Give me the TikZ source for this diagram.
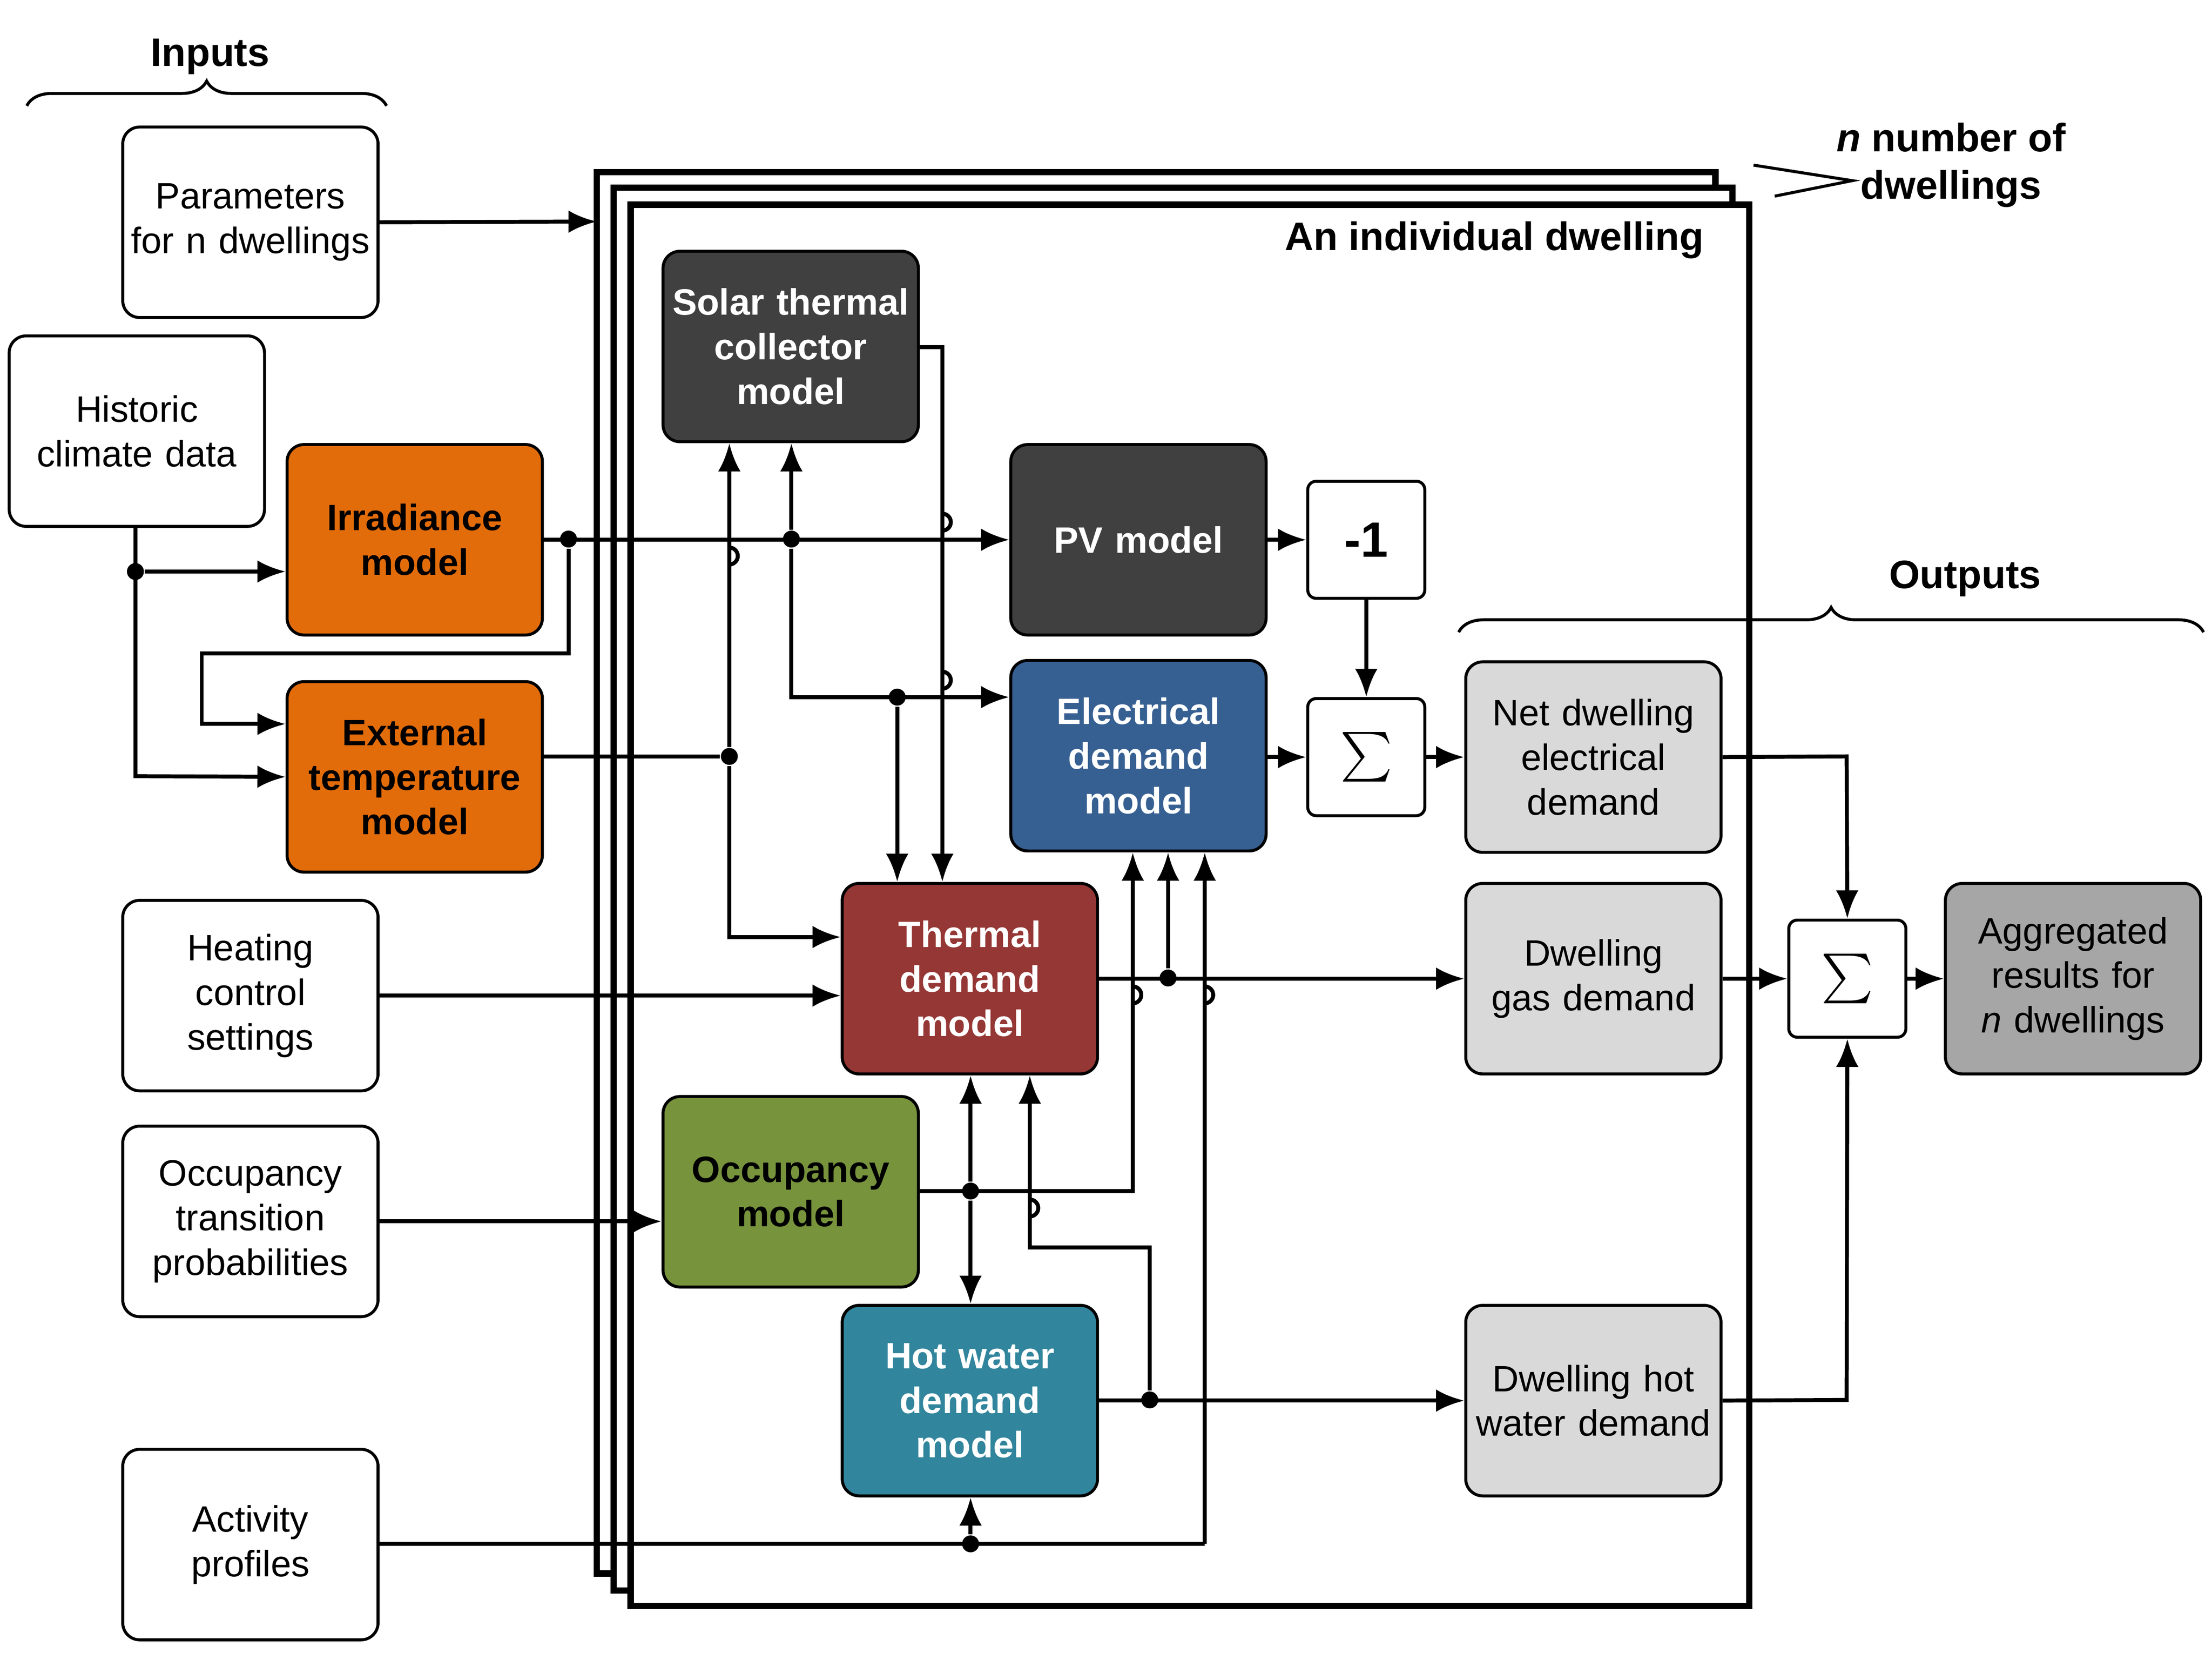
\documentclass[tikz,border=0pt]{standalone}
\usepackage{fontspec}
\setmainfont{Liberation Sans}
\usetikzlibrary{arrows.meta,decorations.pathreplacing}
\definecolor{darkbox}{HTML}{404040}
\definecolor{irrorange}{HTML}{E36C0A}
\definecolor{elecblue}{HTML}{376092}
\definecolor{thermred}{HTML}{953735}
\definecolor{occgreen}{HTML}{77933C}
\definecolor{hwteal}{HTML}{31859C}
\definecolor{lightout}{HTML}{D9D9D9}
\definecolor{aggrgray}{HTML}{A6A6A6}
\tikzset{
  box/.style={draw, rounded corners=1.2mm, line width=0.6pt, minimum width=18.1mm, minimum height=13.5mm,
    text width=17mm, align=center, font=\fontsize{7.4}{9}\selectfont, inner sep=0pt},
  model/.style={box, text=white, font=\fontsize{7.4}{9}\selectfont\bfseries},
  opbox/.style={draw, rounded corners=0.6mm, line width=0.6pt, minimum width=8.3mm, minimum height=8.3mm, inner sep=0pt},
  conn/.style={line width=0.8pt, -{Latex[length=2mm,width=1.6mm]}},
  wire/.style={line width=0.8pt},
  frame/.style={draw, fill=white, line width=1.3pt},
  dot/.style={circle, fill, inner sep=0pt, minimum size=1.2mm}
}
\begin{document}
\begin{tikzpicture}[x=0.1mm,y=-0.1mm]
\useasboundingbox (0,0) rectangle (1568,1176);
% dwelling frames
\path[frame] (423,122) rectangle (1216,1115);
\path[frame] (435,133) rectangle (1228,1127);
\path[frame] (447,145) rectangle (1240,1138);
\node[font=\fontsize{8}{9}\selectfont\bfseries, anchor=east] (title) at (1220,170) {An individual dwelling};
\node[font=\fontsize{8}{9.5}\selectfont\bfseries, align=center] (ndw) at (1383,117) {\textit{n} number of\\dwellings};
\draw[line width=0.6pt] (1243,117) -- (1313,128) -- (1258,139);
% inputs
\node[box] (par) at (177.5,157.5) {Parameters for n dwellings};
\node[box] (hist) at (97,305.5) {Historic climate data};
\node[box] (heat) at (177.5,705.5) {Heating control settings};
\node[box] (otp) at (177.5,865.5) {Occupancy transition probabilities};
\node[box] (act) at (177.5,1094.5) {Activity profiles};
\node[model, fill=irrorange, text=black] (irr) at (294,382.5) {Irradiance model};
\node[model, fill=irrorange, text=black] (ext) at (294,550.5) {External temperature model};
% models
\node[model, fill=darkbox] (sol) at (560.5,245.5) {Solar thermal collector model};
\node[model, fill=darkbox] (pv) at (807,382.5) {PV model};
\node[model, fill=elecblue] (elec) at (807,535.5) {Electrical demand model};
\node[model, fill=thermred] (therm) at (687.5,693.5) {Thermal demand model};
\node[model, fill=occgreen, text=black] (occ) at (560.5,844.5) {Occupancy model};
\node[model, fill=hwteal] (hw) at (687.5,992.5) {Hot water demand model};
\node[opbox, font=\fontsize{10}{10}\selectfont\bfseries] (neg) at (968.5,382.5) {-1};
\node[opbox, font=\fontsize{12}{12}\selectfont] (sum) at (968.5,536.5) {$\sum$};
% outputs
\node[box, fill=lightout] (net) at (1129.5,536.5) {Net dwelling electrical demand};
\node[box, fill=lightout] (gas) at (1129.5,693.5) {Dwelling gas demand};
\node[box, fill=lightout] (hwd) at (1129.5,992.5) {Dwelling hot water demand};
\node[opbox, font=\fontsize{12}{12}\selectfont] (tot) at (1309.5,693.5) {$\sum$};
\node[box, fill=aggrgray] (agg) at (1469.5,693.5) {Aggregated results for \textit{n} dwellings};
% braces
\draw[line width=0.6pt, decorate, decoration={brace, amplitude=5pt}] (19,75) -- (274,75);
\node[font=\fontsize{8}{9}\selectfont\bfseries] (inl) at (149,40) {Inputs};
\draw[line width=0.6pt, decorate, decoration={brace, amplitude=5pt}] (1034,448) -- (1562,448);
\node[font=\fontsize{8}{9}\selectfont\bfseries] (outl) at (1393,410) {Outputs};
% junctions
\node[dot] (j1) at (96,405) {};
\node[dot] (j2) at (403,382) {};
\node[dot] (j3) at (561,382) {};
\node[dot] (j4) at (636,494) {};
\node[dot] (j5) at (517,536) {};
\node[dot] (j6) at (688,844) {};
\node[dot] (j7) at (828,693) {};
\node[dot] (j8) at (815,992) {};
\node[dot] (j9) at (688,1094) {};
% connectors
\draw[conn] (par.east) -- (423,157);
\draw[conn] (hist.south -| j1) -- (96,550) -- (ext.west);
\draw[conn] (j1) -- (irr.west |- j1);
\draw[conn] (irr.east) -- (pv.west);
\draw[conn] (j2) -- (403,463) -- (143,463) -- (143,513) -- (ext.west |- 0,513);
\draw[conn] (j3) -- (sol.south -| j3);
\draw[conn] (j3) -- (561,494) -- (elec.west |- j4);
\draw[conn] (j4) -- (therm.north -| j4);
\draw[wire] (ext.east |- j5) -- (j5);
\draw[conn] (j5) -- (517,388) arc (-90:90:6) -- (sol.south -| j5);
\draw[conn] (j5) -- (517,664) -- (therm.west |- 0,664);
\draw[conn] (sol.east |- 0,246) -- (668,246) -- (668,376) arc (90:-90:6)
  -- (668,488) arc (90:-90:6) -- (therm.north -| 668,0);
\draw[conn] (pv.east) -- (neg.west);
\draw[conn] (neg.south) -- (sum.north);
\draw[conn] (elec.east |- sum) -- (sum.west);
\draw[conn] (sum.east) -- (net.west |- sum);
\draw[conn] (heat.east) -- (therm.west |- heat);
\draw[conn] (otp.east) -- (occ.west |- otp);
\draw[conn] (occ.east |- j6) -- (803,844) -- (803,699) arc (-90:90:6) -- (elec.south -| 803,0);
\draw[conn] (j6) -- (therm.south -| j6);
\draw[conn] (j6) -- (hw.north -| j6);
\draw[conn] (therm.east) -- (gas.west);
\draw[conn] (j7) -- (elec.south -| j7);
\draw[conn] (hw.east) -- (hwd.west);
\draw[conn] (j8) -- (815,884) -- (730,884) -- (730,850) arc (-90:90:6) -- (therm.south -| 730,0);
\draw[wire] (act.east |- 0,1094) -- (854,1094);
\draw[conn] (j9) -- (hw.south -| j9);
\draw[conn] (854,1094) -- (854,699) arc (-90:90:6) -- (elec.south -| 854,0);
\draw[conn] (net.east) -- (1309,536) -- (tot.north);
\draw[conn] (gas.east) -- (tot.west);
\draw[conn] (hwd.east) -- (1309,992) -- (tot.south);
\draw[conn] (tot.east) -- (agg.west);
\end{tikzpicture}
\end{document}
